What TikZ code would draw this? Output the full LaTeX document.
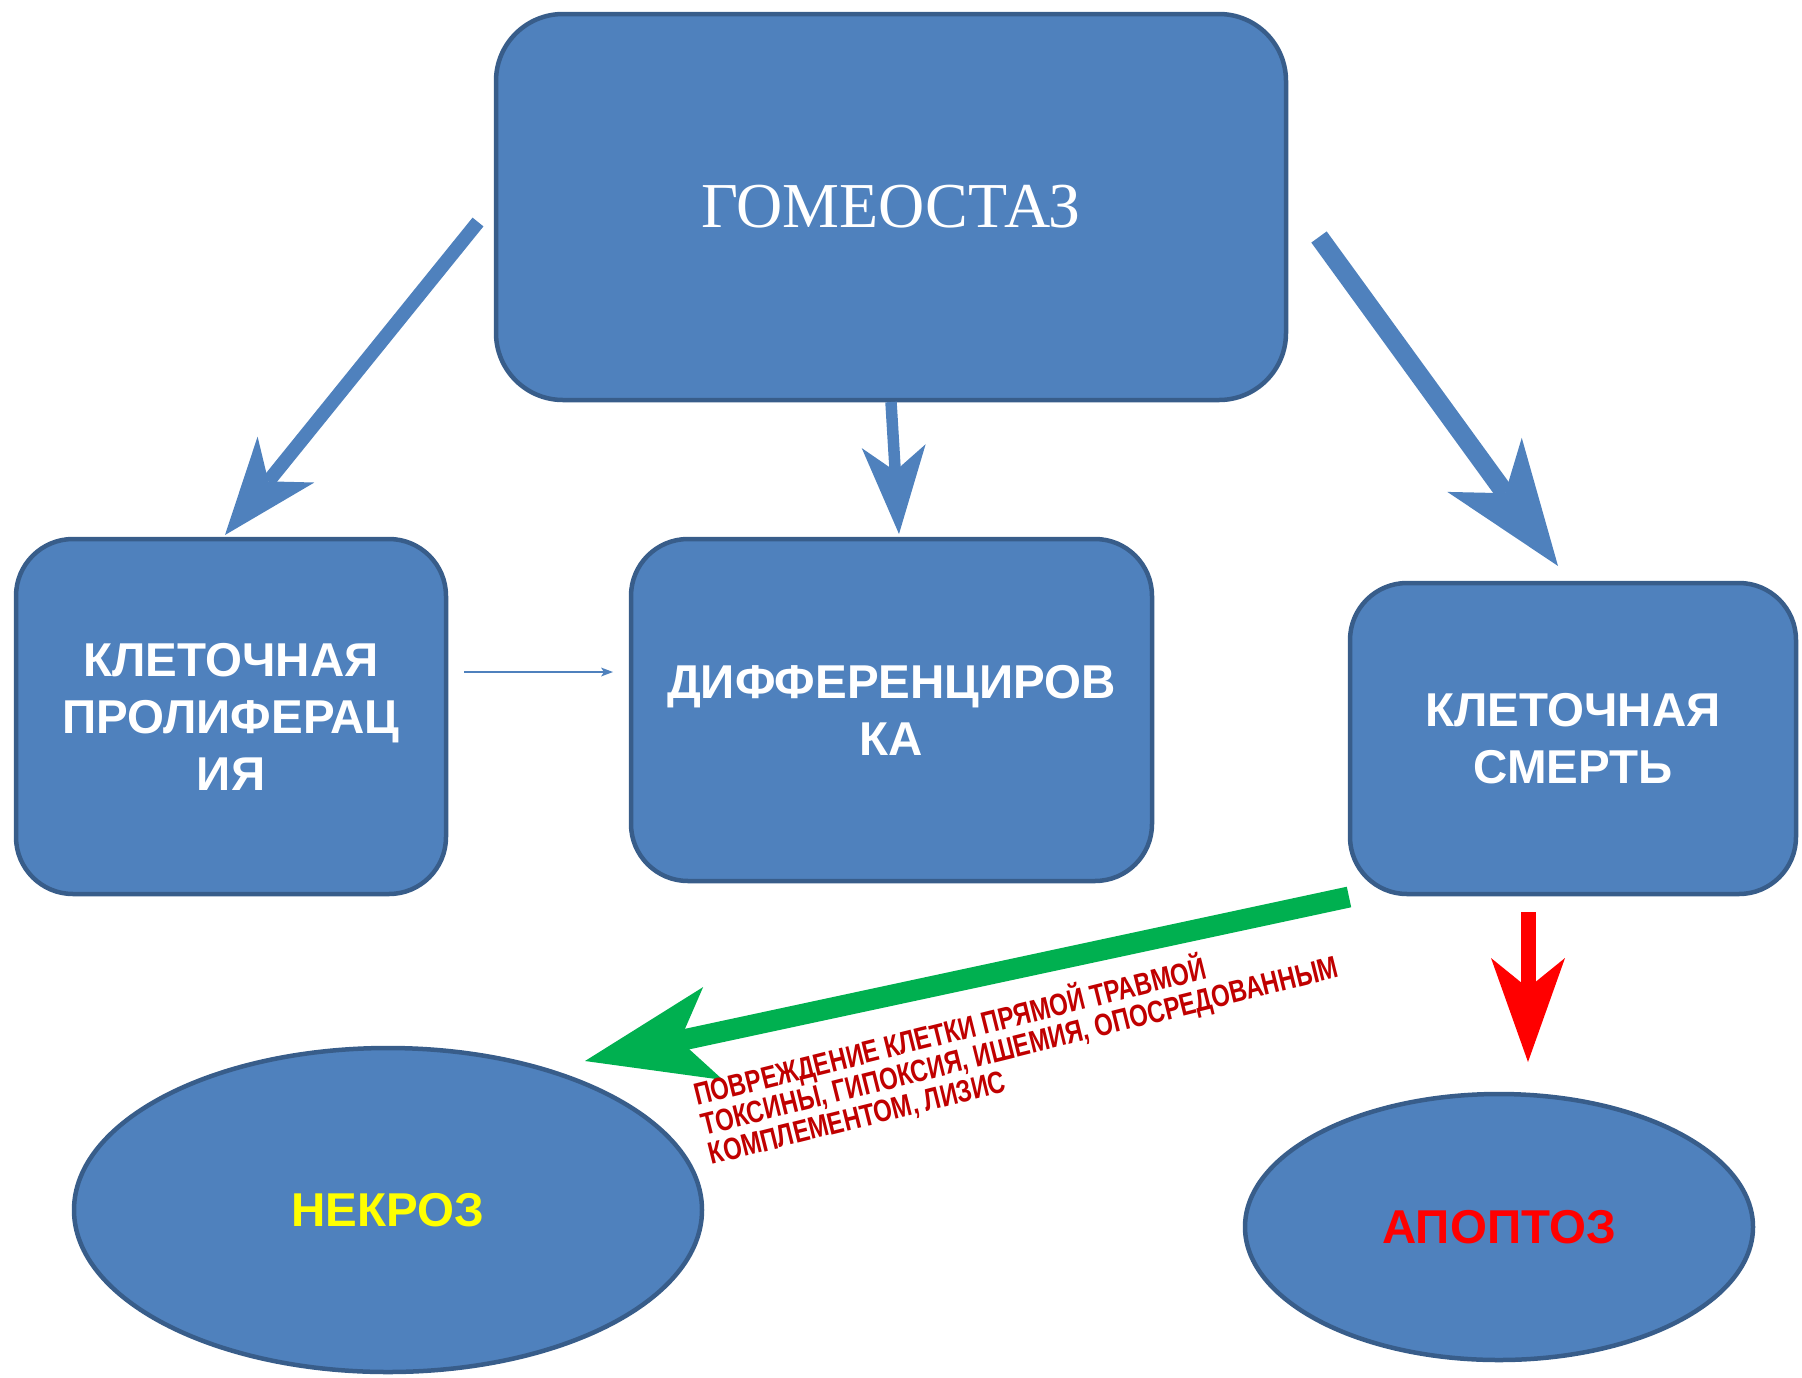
\documentclass[tikz,border=0pt]{standalone}
\usepackage{fontspec}
\usepackage{graphicx}
\setmainfont{Liberation Serif}
\newfontfamily\arialf{Liberation Sans}
\usetikzlibrary{arrows.meta,shapes.geometric}
\definecolor{boxfill}{HTML}{4F81BD}
\definecolor{boxline}{HTML}{385D8A}
\definecolor{grn}{HTML}{00B050}
\definecolor{redc}{HTML}{FF0000}
\definecolor{darkred}{HTML}{C00000}
\definecolor{yel}{HTML}{FFFF00}
\begin{document}
\begin{tikzpicture}[x=1pt,y=-1pt,
  box/.style={draw=boxline, line width=4.5pt, fill=boxfill, rounded corners=57pt,
    align=center, text=white, inner sep=0pt,
    font=\arialf\bfseries\fontsize{47.5}{57}\selectfont},
  oval/.style={ellipse, draw=boxline, line width=4.5pt, fill=boxfill, inner sep=0pt,
    font=\arialf\bfseries\fontsize{47.5}{57}\selectfont},
  redlbl/.style={rotate=14, anchor=base west, inner sep=0pt, text=darkred,
    font=\arialf\bfseries\fontsize{31}{29}\selectfont},
]
\useasboundingbox (0,0) rectangle (1802,1377);

% boxes
\node[box, rounded corners=67pt, minimum width=790pt, minimum height=386pt,
  font=\fontsize{64}{70}\selectfont] (homeo) at (891,207) {ГОМЕОСТАЗ};
\node[box, minimum width=430pt, minimum height=355pt] (prolif) at (231,716.5)
  {КЛЕТОЧНАЯ\\ПРОЛИФЕРАЦ\\ИЯ};
\node[box, minimum width=521pt, minimum height=342pt] (diff) at (891.5,710)
  {ДИФФЕРЕНЦИРОВ\\КА};
\node[box, minimum width=446pt, minimum height=311pt] (death) at (1573,738.5)
  {КЛЕТОЧНАЯ\\СМЕРТЬ};
\node[oval, minimum width=628pt, minimum height=324pt, text=yel] (necro) at (388,1210) {НЕКРОЗ};
\node[oval, minimum width=508pt, minimum height=266pt, text=redc] (apop) at (1499,1227) {АПОПТОЗ};

% connector end points
\coordinate (aL1) at (478,222);  \coordinate (aL2) at (225,535);
\coordinate (aM1) at (891,402);  \coordinate (aM2) at (899,534);
\coordinate (aR1) at (1319,237); \coordinate (aR2) at (1558,566);
\coordinate (aT1) at (464,672);  \coordinate (aT2) at (613,672);
\coordinate (aG1) at (1349,897); \coordinate (aG2) at (585,1061);
\coordinate (aD1) at (1528,912); \coordinate (aD2) at (1528,1062);

% arrows
\draw[boxfill, line width=14pt, -{Stealth[length=97pt, width=73pt, inset=28pt, line width=0pt]}] (aL1) -- (aL2);
\draw[boxfill, line width=11.5pt, -{Stealth[length=88pt, width=64pt, inset=25pt, line width=0pt]}] (aM1) -- (aM2);
\draw[boxfill, line width=19pt, -{Stealth[length=125pt, width=92pt, inset=35pt, line width=0pt]}] (aR1) -- (aR2);
\draw[boxfill, line width=2pt, -{Stealth[length=12pt, width=9pt, inset=3pt, line width=0pt]}] (aT1) -- (aT2);
\draw[grn, line width=21pt, -{Stealth[length=131pt, width=95pt, inset=34pt, line width=0pt]}] (aG1) -- (aG2);
\draw[redc, line width=15pt, -{Stealth[length=104pt, width=74pt, inset=30pt, line width=0pt]}] (aD1) -- (aD2);

% label
\node[redlbl] (lbl) at (697,1106) {\scalebox{0.77}[1]{%
  \begin{tabular}[t]{@{}l@{}}
  ПОВРЕЖДЕНИЕ КЛЕТКИ ПРЯМОЙ ТРАВМОЙ\\
  ТОКСИНЫ, ГИПОКСИЯ, ИШЕМИЯ, ОПОСРЕДОВАННЫМ\\
  КОМПЛЕМЕНТОМ, ЛИЗИС
  \end{tabular}}};
\end{tikzpicture}
\end{document}
